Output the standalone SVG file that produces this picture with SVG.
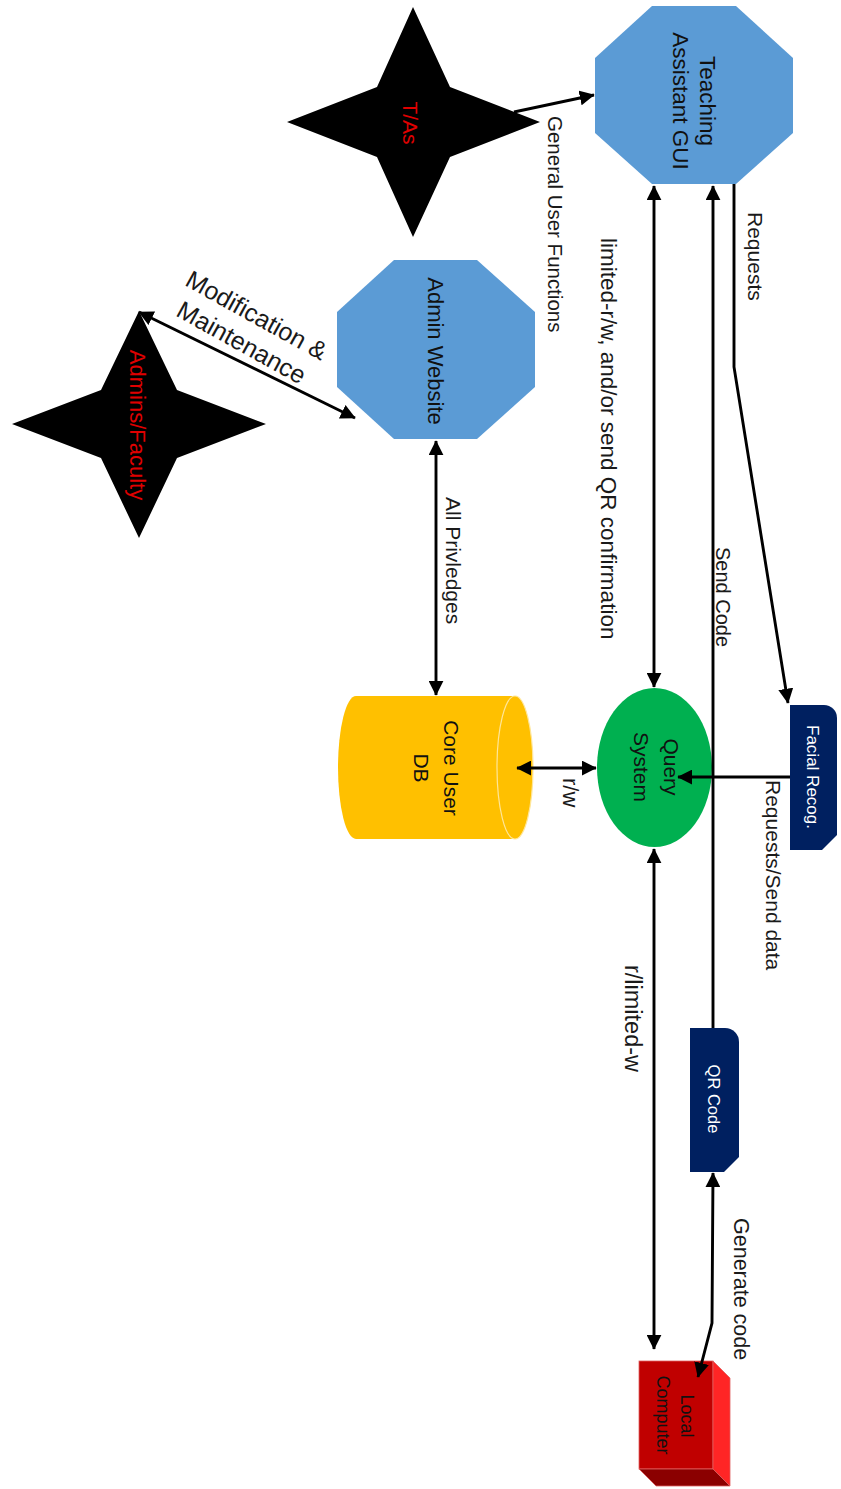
<svg xmlns="http://www.w3.org/2000/svg" width="841" height="1489" viewBox="0 0 841 1489">
<style>
text{font-family:"Liberation Sans",Arial,sans-serif;fill:#111}
.lbl{fill:#1a1a1a}
.red{fill:#e00000}
.wh{fill:#ffffff}
.con{fill:none;stroke:#000;stroke-width:2.9}
.oct{fill:#5b9bd5}
.star{fill:#000}
</style>
<defs>
<marker id="arr" viewBox="0 0 10 10" refX="9.5" refY="5" markerWidth="15" markerHeight="15" markerUnits="userSpaceOnUse" orient="auto-start-reverse">
<path d="M0,0 L10,5 L0,10 Z" fill="#000"/>
</marker>
</defs>
<rect width="841" height="1489" fill="#fff"/>

<g id="ta-gui">
<polygon class="oct" points="652,6 736,6 793,58 793,133 736,184 652,184 595,133 595,58"/>
<text transform="translate(700,101) rotate(90)" text-anchor="middle" font-size="22.5">Teaching</text>
<text transform="translate(673,101) rotate(90)" text-anchor="middle" font-size="22.5">Assistant GUI</text>
</g>

<g id="tas">
<polygon class="star" points="413,7 450,87 540,122 450,157 413,237 377,157 287,122 377,87"/>
<text class="red" transform="translate(403,123) rotate(90)" text-anchor="middle" font-size="21">T/As</text>
</g>

<g id="admin-website">
<polygon class="oct" points="394,260 477,260 535,312 535,387 477,439 394,439 337,387 337,312"/>
<text transform="translate(428,351) rotate(90)" text-anchor="middle" font-size="22">Admin Website</text>
</g>

<g id="admins">
<polygon class="star" points="139,311 177,390 266,424 177,458 139,538 101,458 12,424 101,390"/>
<text class="red" transform="translate(130,425) rotate(90)" text-anchor="middle" font-size="22">Admins/Faculty</text>
</g>

<g id="core-db">
<path d="M356,696 H515 A18,71.5 0 0 1 515,839 H356 A18,71.5 0 0 1 356,696 Z" fill="#ffc000"/>
<ellipse cx="515" cy="767.5" rx="18" ry="71.5" fill="none" stroke="#ffe699" stroke-width="1.2"/>
<text transform="translate(444,768) rotate(90)" text-anchor="middle" font-size="21">Core User</text>
<text transform="translate(414,768) rotate(90)" text-anchor="middle" font-size="21">DB</text>
</g>

<g id="query-system">
<ellipse cx="654.5" cy="767.5" rx="57.5" ry="79.5" fill="#00b050"/>
<text transform="translate(664,767) rotate(90)" text-anchor="middle" font-size="21">Query</text>
<text transform="translate(634,767) rotate(90)" text-anchor="middle" font-size="21">System</text>
</g>

<g id="facial-recog">
<path d="M790,705 H824 A13,13 0 0 1 837,718 V835 L822,850 H790 Z" fill="#002060"/>
<text class="wh" transform="translate(807,777) rotate(90)" text-anchor="middle" font-size="17">Facial Recog.</text>
</g>

<g id="qr-code">
<path d="M690,1028 H725 A14,14 0 0 1 739,1042 V1157 L724,1172 H690 Z" fill="#002060"/>
<text class="wh" transform="translate(708,1099) rotate(90)" text-anchor="middle" font-size="16.5">QR Code</text>
</g>

<g id="local-computer">
<rect x="639" y="1361" width="74" height="108" fill="#c00000" stroke="#e06060" stroke-width="0.8"/>
<polygon points="713,1361 730,1378 730,1486 713,1469" fill="#ff2525" stroke="#e06060" stroke-width="0.8"/>
<polygon points="639,1469 713,1469 730,1486 656,1486" fill="#8b0000" stroke="#e06060" stroke-width="0.8"/>
<text transform="translate(681,1416) rotate(90)" text-anchor="middle" font-size="18">Local</text>
<text transform="translate(657,1415) rotate(90)" text-anchor="middle" font-size="18">Computer</text>
</g>

<g id="connectors">
<line class="con" x1="514" y1="112" x2="594" y2="95" marker-end="url(#arr)"/>
<line class="con" x1="654" y1="186" x2="654" y2="687" marker-start="url(#arr)" marker-end="url(#arr)"/>
<line class="con" x1="713" y1="1028" x2="713" y2="186" marker-end="url(#arr)"/>
<polyline class="con" points="734,184 734,367 788,703" marker-end="url(#arr)"/>
<line class="con" x1="790" y1="777" x2="678" y2="777" marker-end="url(#arr)"/>
<line class="con" x1="517" y1="768" x2="596" y2="768" marker-start="url(#arr)" marker-end="url(#arr)"/>
<line class="con" x1="436" y1="441" x2="436" y2="695" marker-start="url(#arr)" marker-end="url(#arr)"/>
<line class="con" x1="139" y1="312" x2="355" y2="418" marker-start="url(#arr)" marker-end="url(#arr)"/>
<line class="con" x1="654" y1="849" x2="654" y2="1349" marker-start="url(#arr)" marker-end="url(#arr)"/>
<polyline class="con" points="713,1173 712,1323 698,1377" marker-start="url(#arr)" marker-end="url(#arr)"/>

<text class="lbl" transform="translate(548,116) rotate(90)" font-size="20.5">General User Functions</text>
<text class="lbl" transform="translate(601,238) rotate(90)" font-size="22.5">limited-r/w, and/or send QR confirmation</text>
<text class="lbl" transform="translate(748,212) rotate(90)" font-size="21">Requests</text>
<text class="lbl" transform="translate(716,547) rotate(90)" font-size="20">Send Code</text>
<text class="lbl" transform="translate(446,497) rotate(90)" font-size="21">All Privledges</text>
<text class="lbl" transform="translate(563,778) rotate(90)" font-size="22">r/w</text>
<text class="lbl" transform="translate(766,780) rotate(90)" font-size="21">Requests/Send data</text>
<text class="lbl" transform="translate(625,965) rotate(90)" font-size="23.5">r/limited-w</text>
<text class="lbl" transform="translate(734,1218) rotate(90)" font-size="21.5">Generate code</text>
<g transform="translate(249,329) rotate(29)">
<text class="lbl" x="0" y="-7" text-anchor="middle" font-size="25">Modification &amp;</text>
<text class="lbl" x="0" y="24" text-anchor="middle" font-size="25">Maintenance</text>
</g>
</g>
</svg>
